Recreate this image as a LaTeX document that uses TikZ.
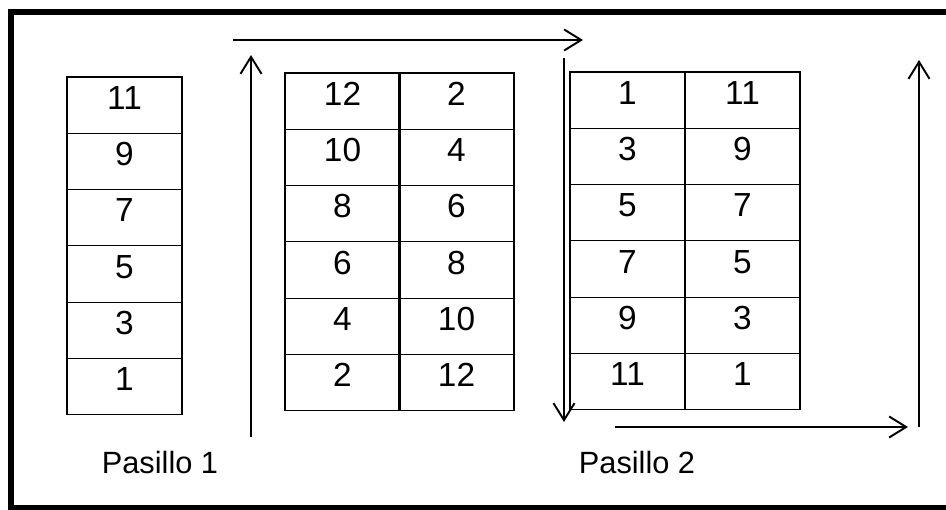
\documentclass[tikz,border=0pt]{standalone}
\usepackage{fontspec}
\setmainfont{Liberation Sans}
\usetikzlibrary{arrows.meta,positioning}

\begin{document}
\begin{tikzpicture}[x=0.02cm, y=-0.02cm,
  cell/.style={draw, line width=0.6pt, minimum width=2.3cm, minimum height=1.126cm, inner sep=0pt,
    text height=0.5cm, text depth=0.34cm, font=\fontsize{19}{22}\selectfont},
  flow/.style={line width=1.1pt, -{Straight Barb[length=3.4mm, width=4.2mm, line width=1.1pt]}},
  aisle/.style={font=\fontsize{17.5}{20}\selectfont}
]
\useasboundingbox (0,0) rectangle (946,510);
\clip (0,0) rectangle (946,510);
\draw[line width=2.85pt] (11,12) rectangle (960,507.5);

% single shelf
\foreach \v [count=\i] in {11,9,7,5,3,1}
  \node[cell] (a\i) at (124.5,{77+56.3*(\i-0.5)}) {\v};

% double shelf, first aisle side
\foreach \l/\r [count=\i] in {12/2,10/4,8/6,6/8,4/10,2/12} {
  \node[cell] (bl\i) at (342.5,{73+56.3*(\i-0.5)}) {\l};
  \node[cell] (br\i) at (456.5,{73+56.3*(\i-0.5)}) {\r};
}

% double shelf, second aisle side
\foreach \l/\r [count=\i] in {1/11,3/9,5/7,7/5,9/3,11/1} {
  \node[cell] (cl\i) at (627.5,{72+56.3*(\i-0.5)}) {\l};
  \node[cell] (cr\i) at (742.5,{72+56.3*(\i-0.5)}) {\r};
}

% route
\coordinate (upA0) at (251,437);
\coordinate (upA1) at (251,55);
\coordinate (topA0) at (233,40);
\coordinate (topA1) at (583,40);
\coordinate (downB0) at (564,58);
\coordinate (downB1) at (564,422);
\coordinate (botB0) at (615,427);
\coordinate (botB1) at (908,427);
\coordinate (upC0) at (919,427);
\coordinate (upC1) at (919,60);
\draw[flow] (upA0) -- (upA1);
\draw[flow] (topA0) -- (topA1);
\draw[flow] (downB0) -- (downB1);
\draw[flow] (botB0) -- (botB1);
\draw[flow] (upC0) -- (upC1);

\node[aisle] (p1) at (160,463) {Pasillo 1};
\node[aisle] (p2) at (637,463) {Pasillo 2};
\end{tikzpicture}
\end{document}
